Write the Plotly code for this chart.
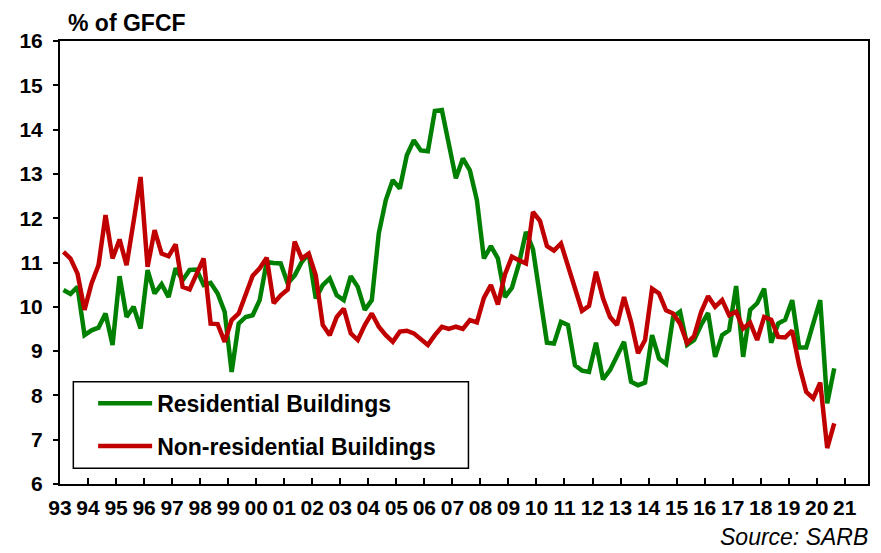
import plotly.graph_objects as go

start_year = 1993
residential = [
    10.38, 10.29, 10.45, 9.36, 9.47, 9.53, 9.85, 9.14, 10.69, 9.77, 10.0, 9.51, 10.83, 10.30,
    10.51, 10.22, 10.87, 10.60, 10.83, 10.84, 10.49, 10.54, 10.30, 9.89, 8.53, 9.62, 9.77, 9.81,
    10.15, 11.01, 10.99, 10.98, 10.53, 10.71, 11.01, 11.20, 10.19, 10.49, 10.64, 10.26, 10.15,
    10.69, 10.45, 9.93, 10.15,
    11.66, 12.41, 12.86, 12.67, 13.42, 13.76, 13.53, 13.51, 14.42, 14.44, 13.61, 12.90, 13.35,
    13.08, 12.41, 11.09, 11.37, 11.09, 10.22, 10.43, 10.97, 11.69, 11.3, 10.3,
    9.19, 9.17, 9.66, 9.59, 8.68, 8.56, 8.53, 9.19, 8.36, 8.57, 8.91, 9.21, 8.31, 8.23, 8.29,
    9.36, 8.83, 8.71, 9.77, 9.89, 9.14, 9.25, 9.59, 9.86, 8.87, 9.36, 9.47, 10.47, 8.87, 9.93,
    10.08, 10.41, 9.19, 9.62, 9.71, 10.15, 9.08, 9.08, 9.62, 10.15, 7.82, 8.61,
]
non_residential = [
    11.24, 11.09, 10.75, 9.93, 10.53, 10.94, 12.07, 11.09, 11.52, 10.94, 11.92, 12.93, 10.90,
    11.73, 11.2, 11.14, 11.41, 10.45, 10.39, 10.75, 11.09, 9.62, 9.61, 9.21, 9.70, 9.85, 10.30, 10.70,
    10.87, 11.11, 10.08, 10.26, 10.39, 11.47, 11.09, 11.20, 10.71, 9.59, 9.36, 9.77, 9.96, 9.40,
    9.25, 9.59, 9.85, 9.55, 9.36, 9.21, 9.44, 9.46, 9.40, 9.26, 9.14, 9.36, 9.55,
    9.5, 9.55, 9.5, 9.7, 9.65, 10.2,
    10.49, 10.05, 10.73, 11.13, 11.05, 10.98, 12.14, 11.94, 11.37, 11.27, 11.43, 10.90, 10.41,
    9.91, 10.02, 10.79, 10.19, 9.77, 9.59, 10.22, 9.66, 8.95, 9.25, 10.41, 10.30, 9.92, 9.85,
    9.62, 9.18, 9.34, 9.88, 10.24, 10.0, 10.15, 9.81, 9.89, 9.51, 9.64, 9.25, 9.77, 9.71, 9.32,
    9.31, 9.46, 8.68, 8.08, 7.93, 8.29, 6.81, 7.37,
]
tick_years = list(range(1993, 2022))
tick_labels = [f"{y % 100:02d}" for y in tick_years]

# quarter mid-points
x_res = [start_year + 0.125 + 0.25 * i for i in range(len(residential))]
x_non = [start_year + 0.125 + 0.25 * i for i in range(len(non_residential))]

FONT = "Liberation Sans, Arial, sans-serif"

fig = go.Figure()
fig.add_trace(go.Scatter(x=x_res, y=residential, mode="lines", name="Residential Buildings",
                         legendgroup="a",
                         line=dict(color="#008000", width=4.5)))
fig.add_trace(go.Scatter(x=x_non, y=non_residential, mode="lines", name="Non-residential Buildings",
                         legendgroup="b",
                         line=dict(color="#C00000", width=4.5)))

# the page body adds an 8px offset; the figure size/margins compensate for it
fig.update_layout(
    width=873, height=545,
    margin=dict(l=50, r=11, t=33, b=69),
    paper_bgcolor="white", plot_bgcolor="white",
    font=dict(family=FONT, color="black"),
    showlegend=True,
    legend=dict(
        x=0.0410, y=0.2308, xanchor="left", yanchor="top",
        borderwidth=0, bgcolor="rgba(0,0,0,0)",
        font=dict(size=23, family=FONT, color="black", weight="bold"),
        itemwidth=54, tracegroupgap=10,
    ),
    xaxis=dict(
        range=[1993, 2021.83], tickmode="array", tickvals=tick_years, ticktext=tick_labels,
        ticks="inside", ticklen=6, tickwidth=1.5, tickcolor="black",
        showline=True, linecolor="black", linewidth=2, mirror=True,
        showgrid=False, zeroline=False,
        tickfont=dict(size=21, family=FONT, color="black", weight="bold"),
        ticklabelstandoff=4,
    ),
    yaxis=dict(
        range=[6, 16], dtick=1, tick0=6,
        ticks="outside", ticklen=5, tickwidth=1.5, tickcolor="black",
        showline=True, linecolor="black", linewidth=2, mirror=True,
        showgrid=False, zeroline=False,
        tickfont=dict(size=21, family=FONT, color="black", weight="bold"),
        ticklabelstandoff=6,
    ),
    shapes=[
        dict(type="rect", xref="paper", yref="paper", x0=0.0165, x1=0.5055, y0=0.0354, y1=0.2308,
             line=dict(color="black", width=1.5), fillcolor="white", layer="below"),
    ],
    annotations=[
        dict(text="% of GFCF", xref="paper", yref="paper", x=0.008, y=1.0, xanchor="left",
             yanchor="bottom", yshift=3, showarrow=False,
             font=dict(size=23, family=FONT, color="black", weight="bold")),
        dict(text="<i>Source: SARB</i>", xref="paper", yref="paper", x=1.0, y=0, xanchor="right",
             yanchor="bottom", yshift=-68, xshift=2, showarrow=False,
             font=dict(size=23, family=FONT, color="black")),
    ],
)

fig.write_html("out.html")
